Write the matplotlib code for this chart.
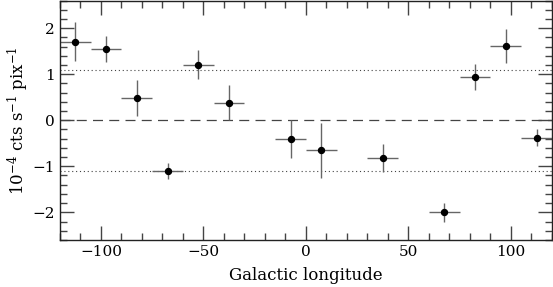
import matplotlib
matplotlib.use("Agg")
import matplotlib.pyplot as plt
from matplotlib.ticker import MultipleLocator

longitude = [-112.5, -97.5, -82.5, -67.5, -52.5, -37.5, -7.5, 7.5, 37.5, 67.5, 82.5, 97.5, 112.5]
rate = [1.71, 1.55, 0.48, -1.10, 1.21, 0.38, -0.41, -0.65, -0.82, -2.00, 0.94, 1.61, -0.38]
rate_err = [0.43, 0.29, 0.39, 0.18, 0.32, 0.38, 0.41, 0.60, 0.30, 0.20, 0.28, 0.37, 0.19]
lon_err = [7.5] * 13
band = 1.1

plt.rcParams['font.family'] = ['DejaVu Serif']
plt.rcParams['mathtext.fontset'] = 'dejavuserif'

fig = plt.figure(figsize=(5.53, 2.87), dpi=100)
ax = fig.add_axes([0.1085, 0.164, 0.8895, 0.834])

ax.axhline(0, color='#444444', lw=0.9, ls=(0, (8, 5)))
ax.axhline(band, color='#444444', lw=0.8, ls=(0, (1, 2.5)))
ax.axhline(-band, color='#444444', lw=0.8, ls=(0, (1, 2.5)))

ax.errorbar(longitude, rate, xerr=lon_err, yerr=rate_err, fmt='o', color='black',
            ms=4.3, ecolor='#666666', elinewidth=1.0, capsize=0)

ax.set_xlim(-120, 120)
ax.set_ylim(-2.6, 2.6)
ax.xaxis.set_major_locator(MultipleLocator(50))
ax.xaxis.set_minor_locator(MultipleLocator(10))
ax.yaxis.set_major_locator(MultipleLocator(1))
ax.yaxis.set_minor_locator(MultipleLocator(0.2))
ax.tick_params(which='both', direction='in', top=True, right=True, color='#444444', labelsize=11)
ax.tick_params(which='major', length=10, width=1)
ax.tick_params(which='minor', length=5, width=1)
for s in ax.spines.values():
    s.set_linewidth(1.0)
    s.set_color('#222222')

ax.set_xlabel('Galactic longitude', fontsize=12, labelpad=6)
ax.set_ylabel(r'10$^{-4}$ cts s$^{-1}$ pix$^{-1}$', fontsize=12, labelpad=1)

fig.savefig('out.png', dpi=100)
